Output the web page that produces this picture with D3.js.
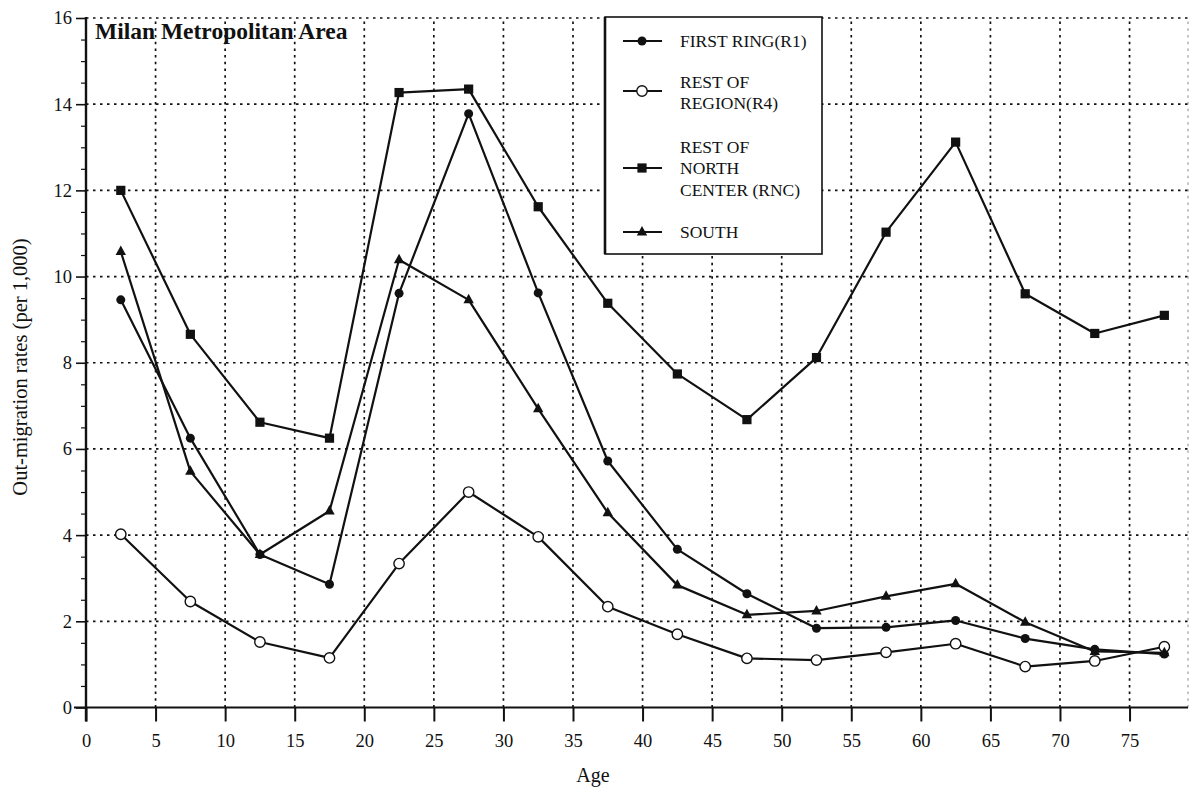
<!DOCTYPE html>
<html>
<head>
<meta charset="utf-8">
<script src="https://cdn.jsdelivr.net/npm/d3@7"></script>
<style>
  html, body { margin: 0; padding: 0; background: #fff; }
  svg { display: block; font-family: "Liberation Serif", "Times New Roman", serif; }
</style>
</head>
<body>
<svg id="chart" width="1191" height="792"></svg>
<script>
// ---- data ----
const ages = [2.5, 7.5, 12.5, 17.5, 22.5, 27.5, 32.5, 37.5, 42.5, 47.5, 52.5, 57.5, 62.5, 67.5, 72.5, 77.5];
const firstRing  = [9.46, 6.25, 3.55, 2.86, 9.61, 13.78, 9.62, 5.72, 3.67, 2.64, 1.84, 1.86, 2.02, 1.60, 1.35, 1.24];
const restRegion = [4.02, 2.46, 1.52, 1.15, 3.34, 5.00, 3.96, 2.34, 1.70, 1.14, 1.10, 1.28, 1.48, 0.95, 1.08, 1.41];
const restNorth  = [12.00, 8.66, 6.62, 6.25, 14.27, 14.35, 11.62, 9.38, 7.74, 6.68, 8.12, 11.03, 13.12, 9.60, 8.68, 9.10];
const south      = [10.58, 5.48, 3.55, 4.56, 10.39, 9.46, 6.93, 4.52, 2.84, 2.15, 2.24, 2.58, 2.87, 1.98, 1.30, 1.27];
const xTicks = [0, 5, 10, 15, 20, 25, 30, 35, 40, 45, 50, 55, 60, 65, 70, 75];
const yTicks = [0, 2, 4, 6, 8, 10, 12, 14, 16];
const seriesNames = ["FIRST RING(R1)", "REST OF|REGION(R4)", "REST OF|NORTH|CENTER (RNC)", "SOUTH"];
const seriesValues = [firstRing, restRegion, restNorth, south];
const seriesMarkers = ["dot", "ring", "square", "triangle"];
const title = "Milan Metropolitan Area";
const xTitle = "Age";
const yTitle = "Out-migration rates (per 1,000)";

// ---- layout ----
const svg = d3.select("#chart");
const x = d3.scaleLinear().domain([0, 79.2]).range([86, 1188]);
const y = d3.scaleLinear().domain([0, 16]).range([707.5, 18]);
const ink = "#111";
const serif = "Liberation Serif";

// grid
const grid = svg.append("g");
grid.selectAll("line.v").data(xTicks.filter(d => d > 0).concat([79.2])).join("line")
  .attr("x1", d => x(d)).attr("x2", d => x(d))
  .attr("y1", y(0)).attr("y2", y(16))
  .attr("stroke", ink).attr("stroke-width", d => d === 79.2 ? 1 : 1.7)
  .attr("stroke-opacity", d => d === 79.2 ? 0.5 : 1)
  .attr("stroke-dasharray", "2.5,4.2");
grid.selectAll("line.h").data(yTicks.filter(d => d > 0)).join("line")
  .attr("x1", x(0)).attr("x2", x(79.2))
  .attr("y1", d => y(d)).attr("y2", d => y(d))
  .attr("stroke", ink).attr("stroke-width", 1.7)
  .attr("stroke-dasharray", "2.5,4.5");

// axes
const xAxis = d3.axisBottom(x).tickValues(xTicks).tickSize(14).tickPadding(12).tickFormat(d3.format("d"));
const gx = svg.append("g").attr("transform", `translate(0,${y(0)})`).call(xAxis)
  .attr("font-family", serif).attr("font-size", 18.5);
gx.select(".domain").remove();
gx.selectAll(".tick line").attr("stroke", ink).attr("stroke-width", 2);
gx.selectAll(".tick text").attr("fill", ink);
svg.append("line").attr("x1", x(0) - 12).attr("x2", x(79.2)).attr("y1", y(0)).attr("y2", y(0))
  .attr("stroke", ink).attr("stroke-width", 2.2);

const minor = d3.range(0, 16.01, 0.5).filter(v => v % 2 !== 0);
svg.append("g").attr("transform", `translate(${x(0)},0)`)
  .call(d3.axisLeft(y).tickValues(minor).tickSize(5).tickFormat(""))
  .call(g => g.select(".domain").remove())
  .call(g => g.selectAll(".tick line").attr("stroke", ink).attr("stroke-width", 1.2));

const yAxis = d3.axisLeft(y).tickValues(yTicks).tickSize(10).tickPadding(4).tickFormat(d3.format("d"));
const gy = svg.append("g").attr("transform", `translate(${x(0)},0)`).call(yAxis)
  .attr("font-family", serif).attr("font-size", 18.5);
gy.select(".domain").remove();
gy.selectAll(".tick line").attr("stroke", ink).attr("stroke-width", 1.6);
gy.selectAll(".tick text").attr("fill", ink);
svg.append("line").attr("x1", x(0)).attr("x2", x(0)).attr("y1", y(0) + 14).attr("y2", y(16) - 1)
  .attr("stroke", ink).attr("stroke-width", 2.4);

// titles
svg.append("text").attr("x", 95).attr("y", 39).attr("font-family", serif).attr("font-size", 23.5)
  .attr("font-weight", "bold").attr("fill", ink).text(title);
svg.append("text").attr("x", 593).attr("y", 782).attr("text-anchor", "middle").attr("font-family", serif)
  .attr("font-size", 20).attr("fill", ink).text(xTitle);
svg.append("text").attr("transform", "translate(27,367) rotate(-90)").attr("text-anchor", "middle")
  .attr("font-family", serif).attr("font-size", 20.5).attr("fill", ink).text(yTitle);

// markers
function drawMarker(g, type, cx, cy) {
  if (type === "dot") {
    g.append("circle").attr("cx", cx).attr("cy", cy).attr("r", 4.5).attr("fill", ink);
  } else if (type === "ring") {
    g.append("circle").attr("cx", cx).attr("cy", cy).attr("r", 5.2).attr("fill", "#fff")
      .attr("stroke", ink).attr("stroke-width", 1.4);
  } else if (type === "square") {
    g.append("rect").attr("x", cx - 4.6).attr("y", cy - 4.6).attr("width", 9.2).attr("height", 9.2).attr("fill", ink);
  } else {
    g.append("path").attr("d", `M${cx},${cy - 6}L${cx + 5.2},${cy + 3.5}L${cx - 5.2},${cy + 3.5}Z`).attr("fill", ink);
  }
}

const line = d3.line().x(d => x(d[0])).y(d => y(d[1]));
seriesValues.forEach((vals, i) => {
  const pts = ages.map((a, j) => [a, vals[j]]);
  svg.append("path").datum(pts).attr("d", line).attr("fill", "none")
    .attr("stroke", ink).attr("stroke-width", 2.2).attr("stroke-linejoin", "round");
});
seriesValues.forEach((vals, i) => {
  const g = svg.append("g");
  ages.forEach((a, j) => drawMarker(g, seriesMarkers[i], x(a), y(vals[j])));
});

// legend
const lg = svg.append("g");
lg.append("rect").attr("x", 605).attr("y", 17).attr("width", 217).attr("height", 237)
  .attr("fill", "#fff").attr("stroke", ink).attr("stroke-width", 1.6);
lg.append("line").attr("x1", 605).attr("x2", 605).attr("y1", 17).attr("y2", 254)
  .attr("stroke", ink).attr("stroke-width", 2.6);
const legendY = [41, 91, 168, 232];
const legendTextY = [[47], [88, 109], [153, 174, 196], [238]];
seriesNames.forEach((name, i) => {
  lg.append("line").attr("x1", 623).attr("x2", 662).attr("y1", legendY[i]).attr("y2", legendY[i])
    .attr("stroke", ink).attr("stroke-width", 1.8);
  drawMarker(lg, seriesMarkers[i], 642, legendY[i]);
  name.split("|").forEach((part, k) => {
    lg.append("text").attr("x", 680).attr("y", legendTextY[i][k]).attr("font-family", serif)
      .attr("font-size", 17.5).attr("fill", ink).text(part);
  });
});
</script>
</body>
</html>
